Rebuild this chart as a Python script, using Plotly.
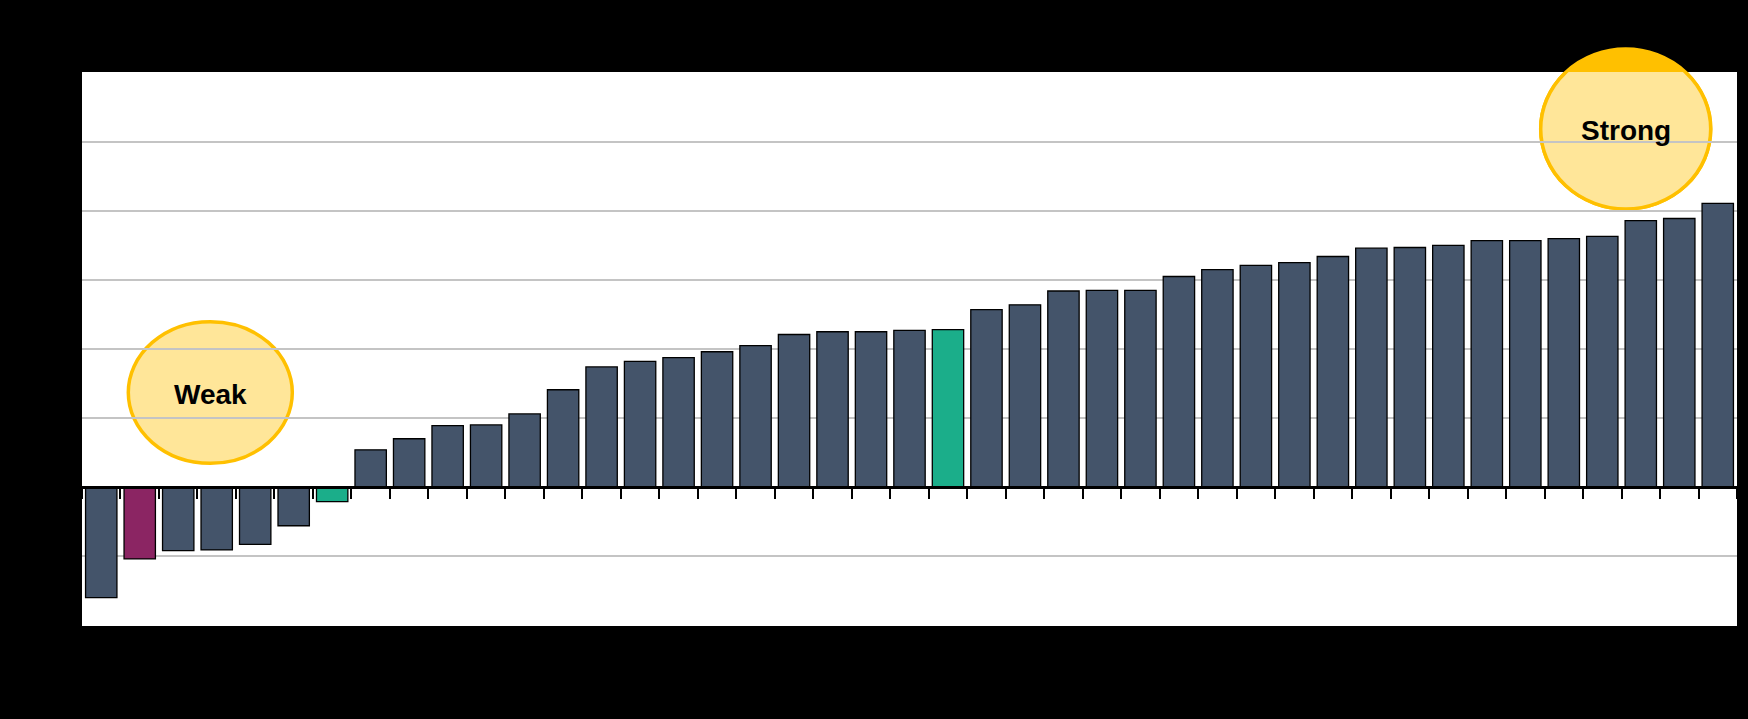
import plotly.graph_objects as go

categories = [str(i) for i in range(1, 44)]
values = [-1.60, -1.04, -0.92, -0.91, -0.83, -0.56, -0.21,
          0.54, 0.70, 0.89, 0.90, 1.06, 1.41, 1.74, 1.82, 1.875, 1.96,
          2.05, 2.21, 2.25, 2.25, 2.27, 2.28, 2.57, 2.64, 2.84, 2.85, 2.85,
          3.05, 3.15, 3.21, 3.25, 3.34, 3.46, 3.47, 3.50, 3.57, 3.57, 3.60,
          3.63, 3.86, 3.89, 4.11]
highlight_purple = ["2"]
highlight_green = ["7", "23"]

SLATE = "#44546A"
PURPLE = "#8B2563"
GREEN = "#1BAE8A"
colors = [PURPLE if c in highlight_purple else GREEN if c in highlight_green else SLATE
          for c in categories]

fig = go.Figure()
fig.add_trace(go.Bar(
    x=categories, y=values,
    marker=dict(color=colors, line=dict(color="black", width=1.3)),
    showlegend=False,
))

W, H = 1748, 719
ml, mr, mt, mb = 82, 11, 72, 93
pw, ph = W - ml - mr, H - mt - mb
Y0, Y1 = -2.012, 6.012
ncat = len(categories)


def px_x(p):
    return (p - ml) / pw


def px_y(p):
    return (H - mb - p) / ph


def dx(p):
    return (p - ml) / (pw / ncat) - 0.5


def dy(p):
    return Y0 + (H - mb - p) / ph * (Y1 - Y0)


ell_fill = "#FFE699"
ell_line = "#FFC000"
shapes = [
    # solid strong circle (visible only outside the plot area)
    dict(type="circle", xref="paper", yref="paper", layer="below",
         x0=px_x(1540.7), x1=px_x(1710.7), y0=px_y(209), y1=px_y(49),
         fillcolor=ell_line, line=dict(color=ell_line, width=3.5)),
    # light circles clipped to the plot area
    dict(type="circle", xref="x", yref="y", layer="below",
         x0=dx(128.3), x1=dx(292.3), y0=dy(463.3), y1=dy(321.7),
         fillcolor=ell_fill, line=dict(color=ell_line, width=3.5)),
    dict(type="circle", xref="x", yref="y", layer="below",
         x0=dx(1540.7), x1=dx(1710.7), y0=dy(209), y1=dy(49),
         fillcolor=ell_fill, line=dict(color=ell_line, width=3.5)),
]

font_lbl = dict(family="Liberation Sans, Arial, sans-serif", size=28, color="black")
annotations = [
    dict(text="<b>Weak</b>", xref="paper", yref="paper", x=px_x(210.5), y=px_y(394),
         showarrow=False, font=font_lbl, xanchor="center", yanchor="middle"),
    dict(text="<b>Strong</b>", xref="paper", yref="paper", x=px_x(1626), y=px_y(131),
         showarrow=False, font=font_lbl, xanchor="center", yanchor="middle"),
]

fig.update_layout(
    width=W, height=H,
    margin=dict(l=ml, r=mr, t=mt, b=mb, pad=0),
    paper_bgcolor="black", plot_bgcolor="white",
    bargap=0.185,
    shapes=shapes, annotations=annotations,
    xaxis=dict(type="category", anchor="free", position=(0 - Y0) / (Y1 - Y0),
               showline=True, linecolor="black", linewidth=2.5,
               ticks="outside", ticklen=10, tickwidth=2, tickcolor="black",
               tickson="boundaries", showticklabels=False, showgrid=False,
               zeroline=False),
    yaxis=dict(range=[Y0, Y1], dtick=1, tick0=0, showgrid=True,
               gridcolor="#C4C4C4", gridwidth=2, zeroline=False,
               showticklabels=False, ticks="", showline=False),
)

fig.write_html("out.html", config={"displayModeBar": False})

with open("out.html", "r", encoding="utf-8") as f:
    html = f.read()
html = html.replace("<head>", "<head><style>html,body{margin:0;padding:0;background:#000;}</style>", 1)
with open("out.html", "w", encoding="utf-8") as f:
    f.write(html)
